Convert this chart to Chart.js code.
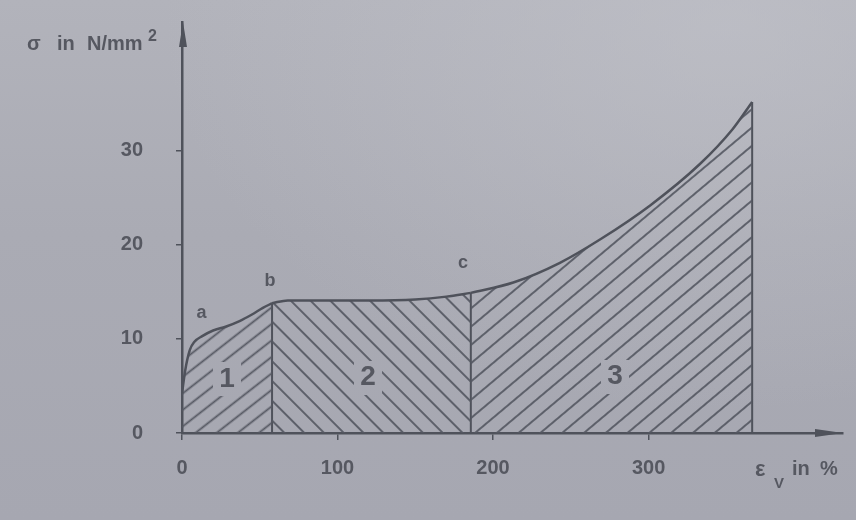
<!DOCTYPE html>
<html>
<head>
<meta charset="utf-8">
<script src="https://cdn.jsdelivr.net/npm/chart.js@4/dist/chart.umd.min.js"></script>
<style>
  html, body { margin: 0; padding: 0; }
  body {
    width: 856px; height: 520px; overflow: hidden;
    background:
      radial-gradient(ellipse at 85% 5%, rgba(196,197,204,0.55) 0%, rgba(196,197,204,0) 55%),
      linear-gradient(180deg, #b2b3bb 0%, #aaabb4 45%, #a6a7b1 100%);
  }
  canvas { display: block; }
</style>
</head>
<body>
<canvas id="chart" width="856" height="520"></canvas>
<script>
// Stress–strain curve (σ in N/mm², ε_V in %), split into three hatched regions
const strainRegion1 = [0, 2, 5, 8, 13, 20, 28, 37, 45, 52, 57.9];
const stressRegion1 = [4.2, 6.6, 8.8, 9.7, 10.3, 10.9, 11.3, 11.9, 12.6, 13.3, 13.8];

const strainRegion2 = [57.9, 68, 90, 120, 150, 170, 185.7];
const stressRegion2 = [13.8, 14.1, 14.1, 14.1, 14.2, 14.5, 14.9];

const strainRegion3 = [185.7, 213, 243, 269, 301, 333, 354, 366.6];
const stressRegion3 = [14.9, 16.0, 18.1, 20.6, 24.2, 28.6, 32.3, 35.2];

const strainTicks = [0, 100, 200, 300];
const stressTicks = [0, 10, 20, 30];

const pointLabels = [
  { text: 'a', x: 12.5, y: 12.8 },
  { text: 'b', x: 56.6, y: 16.2 },
  { text: 'c', x: 180.7, y: 18.1 }
];
const regionLabels = [
  { text: '1', x: 29, y: 5.7 },
  { text: '2', x: 119.6, y: 5.9 },
  { text: '3', x: 278.5, y: 6.0 }
];

const INK = '#4f525b';
const TEXT = '#565861';
const FONT = '"Liberation Sans", Arial, Helvetica, sans-serif';

function toPoints(xs, ys) { return xs.map((x, i) => ({ x, y: ys[i] })); }
function last(a) { return a[a.length - 1]; }

function hatch(angle, gap, width) {
  const tile = document.createElement('canvas');
  tile.width = 24; tile.height = gap;
  const g = tile.getContext('2d');
  g.strokeStyle = '#555862';
  g.lineWidth = width;
  g.beginPath();
  g.moveTo(0, gap / 2);
  g.lineTo(24, gap / 2);
  g.stroke();
  const p = g.createPattern(tile, 'repeat');
  p.setTransform(new DOMMatrix().rotate(angle));
  return p;
}

function boundary(xs, ys) {
  return {
    data: [{ x: last(xs), y: 0 }, { x: last(xs), y: last(ys) }],
    showLine: true, fill: false, pointRadius: 0,
    borderColor: INK, borderWidth: 2
  };
}

function region(xs, ys, pattern) {
  return {
    data: toPoints(xs, ys),
    showLine: true, fill: 'origin', pointRadius: 0,
    cubicInterpolationMode: 'monotone',
    borderColor: INK, borderWidth: 2.5,
    backgroundColor: pattern
  };
}

const decorations = {
  id: 'decorations',
  afterDatasetsDraw(chart) {
    const { ctx, scales: { x, y }, chartArea } = chart;
    ctx.save();
    ctx.textAlign = 'center';
    ctx.textBaseline = 'middle';

    // region numbers sit in a gap of the hatching
    ctx.font = 'bold 28px ' + FONT;
    regionLabels.forEach(l => {
      const px = x.getPixelForValue(l.x), py = y.getPixelForValue(l.y);
      ctx.clearRect(px - 14, py - 17, 28, 34);
      ctx.fillStyle = TEXT;
      ctx.fillText(l.text, px, py);
    });

    ctx.fillStyle = TEXT;
    ctx.font = 'bold 18px ' + FONT;
    pointLabels.forEach(l => {
      ctx.fillText(l.text, x.getPixelForValue(l.x), y.getPixelForValue(l.y));
    });

    // axis arrow heads
    ctx.fillStyle = INK;
    ctx.beginPath();
    ctx.moveTo(chartArea.left + 1, chartArea.top);
    ctx.lineTo(chartArea.left - 3, chartArea.top + 25);
    ctx.lineTo(chartArea.left + 5, chartArea.top + 25);
    ctx.closePath();
    ctx.fill();
    ctx.beginPath();
    ctx.moveTo(chartArea.right, chartArea.bottom);
    ctx.lineTo(chartArea.right - 28, chartArea.bottom - 4);
    ctx.lineTo(chartArea.right - 28, chartArea.bottom + 4);
    ctx.closePath();
    ctx.fill();

    // axis titles
    ctx.fillStyle = TEXT;
    ctx.textAlign = 'left';
    ctx.textBaseline = 'alphabetic';
    ctx.font = 'bold 20px ' + FONT;
    ctx.fillText('σ', 27, 50);
    ctx.fillText('in', 57, 50);
    ctx.fillText('N/mm', 87, 50);
    ctx.font = 'bold 16px ' + FONT;
    ctx.fillText('2', 148, 41);

    ctx.font = 'bold 22px ' + FONT;
    ctx.fillText('ε', 755, 476);
    ctx.font = 'bold 15px ' + FONT;
    ctx.fillText('V', 774, 488);
    ctx.font = 'bold 20px ' + FONT;
    ctx.fillText('in', 792, 475);
    ctx.fillText('%', 820, 475);
    ctx.restore();
  }
};

new Chart(document.getElementById('chart'), {
  type: 'scatter',
  data: {
    datasets: [
      region(strainRegion1, stressRegion1, hatch(-38, 13, 1.8)),
      region(strainRegion2, stressRegion2, hatch(45, 14, 1.8)),
      region(strainRegion3, stressRegion3, hatch(-40, 14, 1.8)),
      boundary(strainRegion1, stressRegion1),
      boundary(strainRegion2, stressRegion2),
      boundary(strainRegion3, stressRegion3)
    ]
  },
  options: {
    responsive: false,
    animation: false,
    layout: { padding: { top: 22, right: 13, left: 0, bottom: 0 } },
    plugins: { legend: { display: false }, tooltip: { enabled: false } },
    scales: {
      x: {
        type: 'linear', min: 0, max: 425,
        afterBuildTicks: s => { s.ticks = strainTicks.map(v => ({ value: v })); },
        afterFit: s => { s.height = 87; s.paddingLeft = 0; s.paddingRight = 0; },
        border: { color: INK, width: 2.5 },
        grid: { drawOnChartArea: false, drawTicks: true, tickLength: 7, color: INK, lineWidth: 1.5 },
        ticks: { color: TEXT, padding: 16, font: { family: FONT, size: 20, weight: 'bold' } }
      },
      y: {
        type: 'linear', min: 0, max: 43.7,
        afterBuildTicks: s => { s.ticks = stressTicks.map(v => ({ value: v })); },
        afterFit: s => { s.width = 182; s.paddingTop = 0; s.paddingBottom = 0; },
        border: { color: INK, width: 2.5 },
        grid: { drawOnChartArea: false, drawTicks: true, tickLength: 6, color: INK, lineWidth: 1.5 },
        ticks: { color: TEXT, padding: 33, font: { family: FONT, size: 20, weight: 'bold' } }
      }
    }
  },
  plugins: [decorations]
});
</script>
</body>
</html>
